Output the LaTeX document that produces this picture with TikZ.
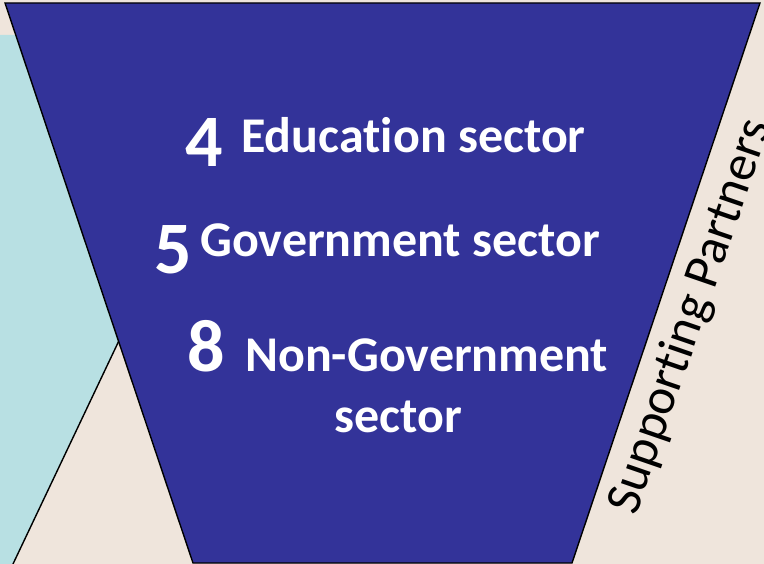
\documentclass[tikz,border=0pt]{standalone}
\usepackage{fontspec}
\setmainfont[Ligatures=NoCommon]{Carlito}
\usepackage{xcolor}
\usetikzlibrary{positioning}
\definecolor{funnelblue}{RGB}{51,51,153}
\definecolor{paleteal}{RGB}{184,224,227}
\definecolor{sand}{RGB}{239,229,220}
\tikzset{sector num/.style={text=white,inner sep=0pt,font=\fontsize{74}{74}\selectfont\bfseries},
         sector text/.style={text=white,inner sep=0pt,font=\fontsize{50}{60}\selectfont\bfseries},
            }
\begin{document}
\begin{tikzpicture}[x=1pt,y=-1pt]
        \useasboundingbox (0,0) rectangle (764,564);
        \fill[sand] (0,0) rectangle (764,564);
        \fill[paleteal] (0,35) -- (264,35) -- (13,564) -- (0,564) -- cycle;
        \draw[line width=1.4pt] (13,564) -- (264,35);
        \draw[line width=1.4pt,fill=funnelblue] (5,3) -- (760,3) -- (572,563) -- (193,563) -- cycle;

        \node[sector num, anchor=base west] (4) at (185,167) {4};
        \node[sector text, anchor=base west] (edu) at (241,153) {Education sector};
        \node[sector num, anchor=base west] (5) at (154,274) {5};
        \node[sector text, anchor=base west] (gov) at (200,257) {Government sector};
        \node[sector num, anchor=base west] (8) at (187,372) {8};
        \node[sector text, anchor=base west] (ngo) at (245,372) {Non-Government};
        \node[sector text, anchor=base west] (sec) at (334,432) {sector};

        \node[rotate=71,inner sep=0pt,font=\fontsize{51}{51}\selectfont] (partners) at (691,317) {Supporting Partners};
      \end{tikzpicture}
\end{document}
